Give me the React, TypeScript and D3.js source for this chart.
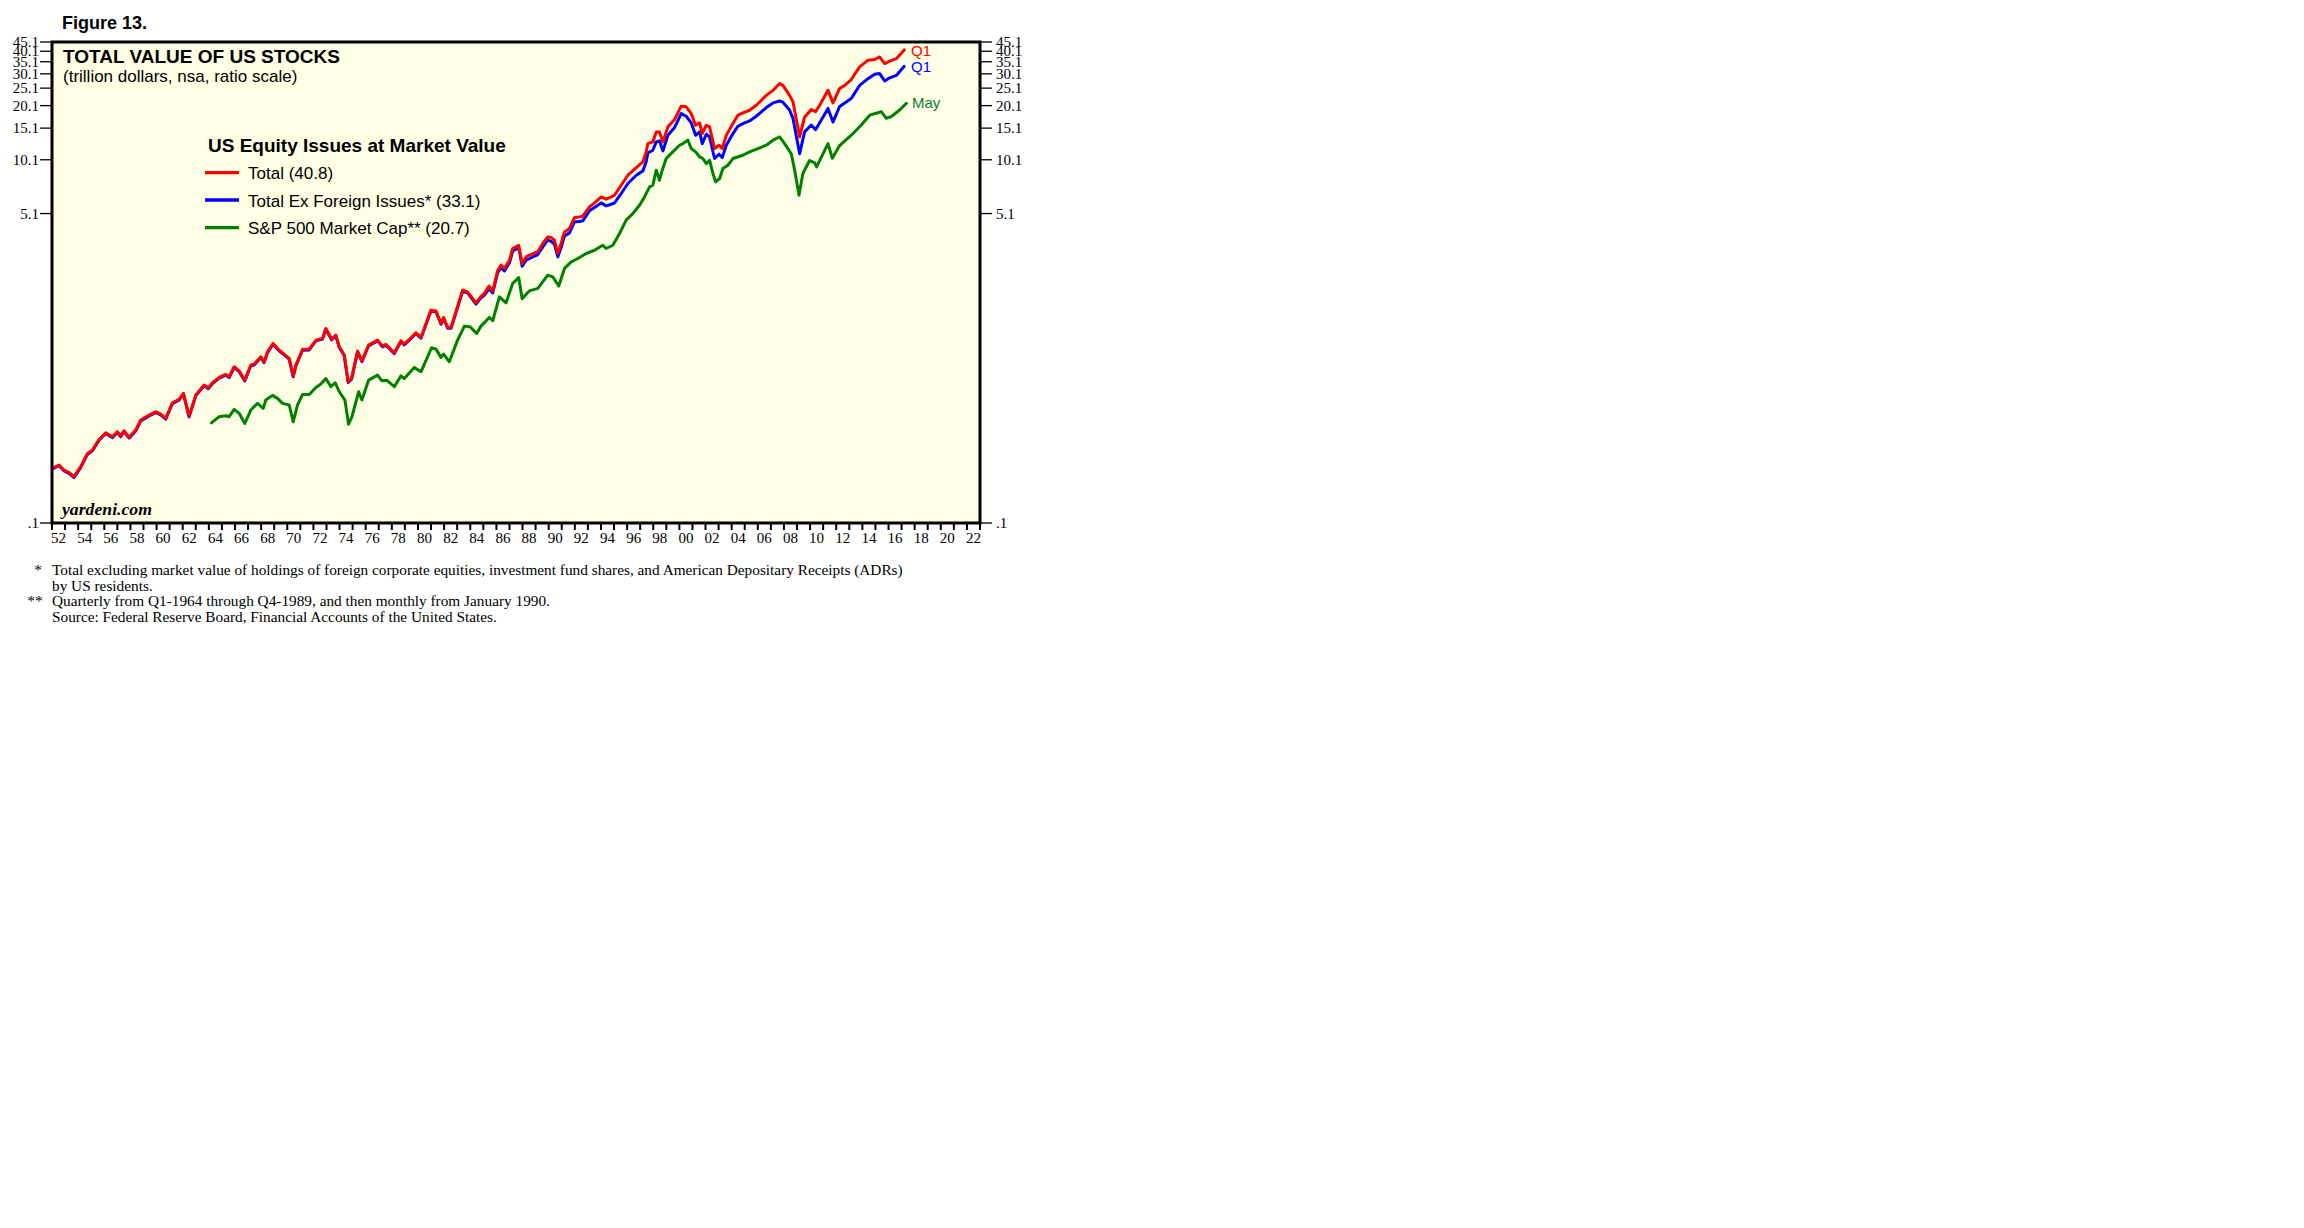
import React from "react";
import * as d3 from "d3";

// ---- DATA ----
// decimal year, Total (red), Total ex foreign issues (blue)
const totalDates: number[] = [
  1952.0, 1952.54, 1952.92, 1953.3, 1953.68, 1954.19, 1954.71, 1955.09, 1955.6, 1956.11,
  1956.62, 1957.0, 1957.26, 1957.51, 1957.9, 1958.41, 1958.79, 1959.43, 1959.94, 1960.32,
  1960.7, 1961.21, 1961.72, 1962.06, 1962.49, 1963.0, 1963.64, 1963.97, 1964.28, 1964.79,
  1965.3, 1965.55, 1965.94, 1966.32, 1966.75, 1967.21, 1967.47, 1967.98, 1968.23, 1968.49,
  1968.92, 1969.38, 1970.15, 1970.45, 1970.66, 1971.17, 1971.68, 1972.19, 1972.7, 1972.95,
  1973.39, 1973.72, 1973.98, 1974.36, 1974.66, 1974.92, 1975.38, 1975.71, 1976.22, 1976.91,
  1977.29, 1977.55, 1978.19, 1978.7, 1978.95, 1979.34, 1979.85, 1980.23, 1980.99, 1981.38,
  1981.76, 1981.96, 1982.27, 1982.53, 1983.42, 1983.8, 1984.44, 1984.8, 1985.08, 1985.44,
  1985.72, 1986.1, 1986.36, 1986.61, 1987.0, 1987.25, 1987.71, 1987.97, 1988.27, 1988.53,
  1989.17, 1989.55, 1989.93, 1990.19, 1990.44, 1990.7, 1990.95, 1991.21, 1991.59, 1991.97,
  1992.36, 1992.61, 1993.12, 1993.51, 1994.02, 1994.4, 1994.78, 1995.04, 1995.55, 1996.06,
  1996.7, 1997.21, 1997.46, 1997.59, 1997.97, 1998.23, 1998.48, 1998.74, 1999.12, 1999.63,
  2000.14, 2000.52, 2000.91, 2001.24, 2001.55, 2001.75, 2002.06, 2002.31, 2002.69, 2003.03,
  2003.28, 2003.59, 2004.1, 2004.48, 2004.86, 2005.37, 2005.88, 2006.27, 2006.65, 2007.16,
  2007.67, 2007.92, 2008.43, 2008.69, 2009.2, 2009.58, 2010.09, 2010.42, 2010.68, 2011.37,
  2011.75, 2012.26, 2012.65, 2013.15, 2013.79, 2014.43, 2014.94, 2015.32, 2015.71, 2016.09,
  2016.6, 2017.2,
];
const totalValues: number[] = [
  0.2, 0.209, 0.196, 0.19, 0.18, 0.204, 0.242, 0.253, 0.289, 0.315,
  0.299, 0.319, 0.302, 0.323, 0.297, 0.326, 0.37, 0.394, 0.411, 0.399,
  0.378, 0.461, 0.481, 0.519, 0.389, 0.508, 0.577, 0.557, 0.594, 0.636,
  0.661, 0.641, 0.728, 0.691, 0.614, 0.744, 0.753, 0.826, 0.776, 0.88,
  0.979, 0.899, 0.81, 0.647, 0.744, 0.908, 0.911, 1.021, 1.044, 1.185,
  1.035, 1.089, 0.938, 0.845, 0.602, 0.628, 0.888, 0.785, 0.959, 1.021,
  0.946, 0.967, 0.869, 1.012, 0.97, 1.03, 1.121, 1.057, 1.495, 1.48,
  1.262, 1.362, 1.2, 1.2, 1.927, 1.885, 1.64, 1.77, 1.85, 2.03,
  1.91, 2.48, 2.65, 2.54, 2.82, 3.27, 3.41, 2.7, 2.94, 3.01,
  3.14, 3.49, 3.79, 3.76, 3.64, 3.07, 3.49, 4.04, 4.22, 4.83,
  4.89, 4.93, 5.55, 5.84, 6.3, 6.12, 6.3, 6.44, 7.31, 8.3,
  9.15, 9.84, 11.17, 12.41, 12.67, 14.39, 14.39, 12.67, 15.34, 16.83,
  19.95, 19.8, 18.15, 15.66, 16.13, 14.09, 15.66, 15.34, 11.65, 12.15,
  11.65, 13.79, 15.99, 17.8, 18.32, 18.95, 20.19, 21.5, 22.9, 24.4,
  26.6, 26.0, 22.9, 21.1, 13.5, 17.4, 19.1, 18.6, 19.9, 24.4,
  20.8, 25.0, 26.0, 28.0, 32.9, 35.8, 36.1, 37.3, 34.3, 35.4,
  36.5, 40.8,
];
const exForeignValues: number[] = [
  0.198, 0.207, 0.194, 0.188, 0.178, 0.202, 0.239, 0.25, 0.286, 0.312,
  0.296, 0.316, 0.299, 0.32, 0.294, 0.323, 0.366, 0.39, 0.407, 0.395,
  0.374, 0.456, 0.476, 0.514, 0.385, 0.503, 0.571, 0.551, 0.588, 0.63,
  0.654, 0.635, 0.721, 0.684, 0.608, 0.737, 0.745, 0.818, 0.768, 0.871,
  0.969, 0.89, 0.802, 0.641, 0.737, 0.899, 0.902, 1.011, 1.034, 1.173,
  1.025, 1.078, 0.929, 0.837, 0.596, 0.622, 0.879, 0.777, 0.949, 1.011,
  0.937, 0.957, 0.86, 1.002, 0.96, 1.02, 1.11, 1.046, 1.48, 1.465,
  1.249, 1.348, 1.188, 1.188, 1.9, 1.86, 1.615, 1.74, 1.81, 1.96,
  1.86, 2.41, 2.57, 2.46, 2.73, 3.17, 3.31, 2.61, 2.82, 2.88,
  3.03, 3.34, 3.64, 3.58, 3.46, 2.94, 3.31, 3.84, 3.99, 4.59,
  4.61, 4.65, 5.28, 5.51, 5.84, 5.62, 5.74, 5.84, 6.58, 7.47,
  8.3, 8.77, 9.84, 11.02, 11.4, 12.68, 12.84, 11.3, 13.79, 15.21,
  18.16, 17.56, 16.13, 13.79, 14.39, 12.41, 13.97, 13.51, 10.26, 10.84,
  10.39, 12.15, 14.09, 15.47, 16.0, 16.55, 17.56, 18.56, 19.6, 20.8,
  21.3, 21.0, 19.0, 17.1, 10.9, 14.4, 15.7, 14.8, 15.9, 19.4,
  16.3, 19.9, 20.8, 22.0, 26.0, 28.3, 29.9, 30.2, 27.5, 28.6,
  29.5, 33.1,
];
// S&P 500 market cap (green)
const sp500Dates: number[] = [
  1964.2, 1964.79, 1965.3, 1965.55, 1965.94, 1966.32, 1966.75, 1967.21, 1967.72, 1968.16,
  1968.36, 1968.87, 1969.25, 1969.64, 1970.15, 1970.45, 1970.79, 1971.17, 1971.68, 1972.19,
  1972.57, 1972.95, 1973.34, 1973.67, 1973.98, 1974.41, 1974.69, 1974.95, 1975.46, 1975.71,
  1976.22, 1976.91, 1977.24, 1977.6, 1978.19, 1978.7, 1978.95, 1979.72, 1980.23, 1981.04,
  1981.38, 1981.76, 1981.96, 1982.4, 1983.03, 1983.55, 1983.98, 1984.49, 1984.82, 1985.46,
  1985.72, 1986.23, 1986.74, 1987.25, 1987.71, 1987.97, 1988.53, 1989.17, 1989.93, 1990.32,
  1990.77, 1991.21, 1991.72, 1992.23, 1992.87, 1993.51, 1994.14, 1994.4, 1994.91, 1995.42,
  1995.93, 1996.44, 1996.95, 1997.33, 1997.72, 1997.97, 1998.23, 1998.48, 1998.69, 1998.99,
  1999.5, 2000.01, 2000.27, 2000.65, 2000.91, 2001.24, 2001.55, 2001.8, 2002.06, 2002.31,
  2002.57, 2002.77, 2003.08, 2003.33, 2003.71, 2004.1, 2004.86, 2005.37, 2006.01, 2006.65,
  2007.16, 2007.67, 2008.05, 2008.56, 2008.82, 2009.15, 2009.45, 2009.96, 2010.35, 2010.5,
  2011.37, 2011.7, 2012.26, 2013.15, 2013.92, 2014.56, 2015.45, 2015.83, 2016.22, 2016.85,
  2017.37,
];
const sp500Values: number[] = [
  0.357, 0.386, 0.391, 0.386, 0.424, 0.403, 0.354, 0.42, 0.457, 0.429,
  0.477, 0.506, 0.487, 0.457, 0.448, 0.362, 0.448, 0.512, 0.512, 0.56,
  0.584, 0.627, 0.565, 0.594, 0.53, 0.477, 0.351, 0.386, 0.53, 0.477,
  0.614, 0.655, 0.609, 0.614, 0.565, 0.649, 0.627, 0.722, 0.683, 0.927,
  0.911, 0.82, 0.855, 0.776, 1.021, 1.22, 1.21, 1.112, 1.22, 1.362,
  1.306, 1.77, 1.64, 2.1, 2.26, 1.73, 1.91, 1.97, 2.33, 2.28,
  2.03, 2.54, 2.76, 2.88, 3.07, 3.2, 3.41, 3.27, 3.41, 3.96,
  4.69, 5.1, 5.67, 6.3, 7.16, 7.31, 8.85, 7.79, 8.85, 10.26,
  11.17, 12.15, 12.41, 12.95, 11.65, 11.17, 10.48, 10.26, 9.62, 10.04,
  8.48, 7.63, 7.96, 9.03, 9.42, 10.26, 10.7, 11.17, 11.65, 12.15,
  12.95, 13.5, 12.4, 10.9, 8.85, 6.44, 8.48, 10.0, 9.71, 9.23,
  12.4, 10.3, 12.1, 13.8, 15.7, 17.8, 18.6, 17.1, 17.5, 19.0,
  20.7,
];

const yTickValues: number[] = [0.1, 5.1, 10.1, 15.1, 20.1, 25.1, 30.1, 35.1, 40.1, 45.1];
const yTickLabels: string[] = [".1", "5.1", "10.1", "15.1", "20.1", "25.1", "30.1", "35.1", "40.1", "45.1"];
const xTickYears: number[] = d3.range(1952, 2024);
const xLabelYears: number[] = d3.range(1952, 2023, 2);

const legendItems = [
  { label: "Total (40.8)", color: "#FF0000" },
  { label: "Total Ex Foreign Issues* (33.1)", color: "#0000FF" },
  { label: "S&P 500 Market Cap** (20.7)", color: "#008000" },
];

const footnotes: { mark: string; lines: string[] }[] = [
  {
    mark: "*",
    lines: [
      "Total excluding market value of holdings of foreign corporate equities, investment fund shares, and American Depositary Receipts (ADRs)",
      "by US residents.",
    ],
  },
  {
    mark: "**",
    lines: [
      "Quarterly from Q1-1964 through Q4-1989, and then monthly from January 1990.",
      "Source: Federal Reserve Board, Financial Accounts of the United States.",
    ],
  },
];

const SANS = "'Liberation Sans', Arial, Helvetica, sans-serif";
const SERIF = "'Liberation Serif', 'Times New Roman', serif";

export default function App() {
  const W = 2304;
  const H = 1228;
  const left = 52;
  const right = 980;
  const top = 42;
  const bottom = 523;

  const x = d3.scaleLinear().domain([1952, 2023]).range([left, right]);
  const y = d3.scaleLog().domain([0.1, 45.1]).range([bottom, top]);

  const line = d3
    .line<[number, number]>()
    .x((d) => x(d[0]))
    .y((d) => y(d[1]));

  const totalPts = totalDates.map((d, i) => [d, totalValues[i]] as [number, number]);
  const exPts = totalDates.map((d, i) => [d, exForeignValues[i]] as [number, number]);
  const spPts = sp500Dates.map((d, i) => [d, sp500Values[i]] as [number, number]);

  const legendY = [172.7, 200, 227.7];

  return (
    <svg
      width={W}
      height={H}
      viewBox={`0 0 ${W} ${H}`}
      style={{ position: "absolute", left: 0, top: 0, background: "#fff" }}
    >
      <defs>
        <clipPath id="plotClip">
          <rect x={left} y={top} width={right - left} height={bottom - top} />
        </clipPath>
      </defs>

      <text x={62} y={29} fontFamily={SANS} fontWeight="bold" fontSize={18} fill="#000">
        Figure 13.
      </text>

      {/* plot background */}
      <rect x={left} y={top} width={right - left} height={bottom - top} fill="#FFFFE5" />

      {/* y ticks left & right */}
      {yTickValues.map((v, i) => (
        <g key={"yt" + i}>
          <line x1={40} x2={left} y1={y(v)} y2={y(v)} stroke="#000" strokeWidth={1.3} />
          <line x1={right} x2={992} y1={y(v)} y2={y(v)} stroke="#000" strokeWidth={1.3} />
          <text x={39} y={y(v) + 5} textAnchor="end" fontFamily={SERIF} fontSize={15} fill="#000">
            {yTickLabels[i]}
          </text>
          <text x={996} y={y(v) + 5} textAnchor="start" fontFamily={SERIF} fontSize={15} fill="#000">
            {yTickLabels[i]}
          </text>
        </g>
      ))}

      {/* x ticks */}
      {xTickYears.map((yr) => (
        <line key={"xt" + yr} x1={x(yr)} x2={x(yr)} y1={bottom} y2={530} stroke="#000" strokeWidth={2} />
      ))}
      {xLabelYears.map((yr) => (
        <text
          key={"xl" + yr}
          x={x(yr + 0.5)}
          y={543}
          textAnchor="middle"
          fontFamily={SERIF}
          fontSize={15}
          fill="#000"
        >
          {String(yr % 100).padStart(2, "0")}
        </text>
      ))}

      {/* series */}
      <g clipPath="url(#plotClip)" fill="none" strokeLinejoin="round" strokeLinecap="round">
        <path d={line(spPts) || ""} stroke="#008000" strokeWidth={3} />
        <path d={line(exPts) || ""} stroke="#0000FF" strokeWidth={3} />
        <path d={line(totalPts) || ""} stroke="#FF0000" strokeWidth={3} />
      </g>

      {/* frame */}
      <rect x={left} y={top} width={right - left} height={bottom - top} fill="none" stroke="#000" strokeWidth={3} />

      {/* titles */}
      <text x={63} y={63} fontFamily={SANS} fontWeight="bold" fontSize={19} fill="#000">
        TOTAL VALUE OF US STOCKS
      </text>
      <text x={63} y={82} fontFamily={SANS} fontSize={17} fill="#000">
        (trillion dollars, nsa, ratio scale)
      </text>

      {/* legend */}
      <text x={208} y={152} fontFamily={SANS} fontWeight="bold" fontSize={19} fill="#000">
        US Equity Issues at Market Value
      </text>
      {legendItems.map((it, i) => (
        <g key={"lg" + i}>
          <line x1={205} x2={239} y1={legendY[i]} y2={legendY[i]} stroke={it.color} strokeWidth={3.3} />
          <text x={248} y={legendY[i] + 6.5} fontFamily={SANS} fontSize={17} fill="#000">
            {it.label}
          </text>
        </g>
      ))}

      {/* end labels */}
      <text x={911} y={56} fontFamily={SANS} fontSize={15} fill="#FF0000">
        Q1
      </text>
      <text x={911} y={72} fontFamily={SANS} fontSize={15} fill="#0000FF">
        Q1
      </text>
      <text x={912} y={108} fontFamily={SANS} fontSize={15} fill="#0C7C3C">
        May
      </text>

      <text
        x={62}
        y={515}
        fontFamily={SERIF}
        fontStyle="italic"
        fontWeight="bold"
        fontSize={16}
        textLength={90}
        lengthAdjust="spacingAndGlyphs"
        fill="#000"
      >
        yardeni.com
      </text>

      {/* footnotes */}
      {footnotes.map((f, i) => (
        <g key={"fn" + i}>
          <text x={i === 0 ? 38 : 35} y={575 + i * 31} textAnchor="middle" fontFamily={SERIF} fontSize={15.3} fill="#000">
            {f.mark}
          </text>
          {f.lines.map((ln, j) => (
            <text key={j} x={52} y={575 + i * 31 + j * 15.5} fontFamily={SERIF} fontSize={15.3} fill="#000">
              {ln}
            </text>
          ))}
        </g>
      ))}
    </svg>
  );
}
